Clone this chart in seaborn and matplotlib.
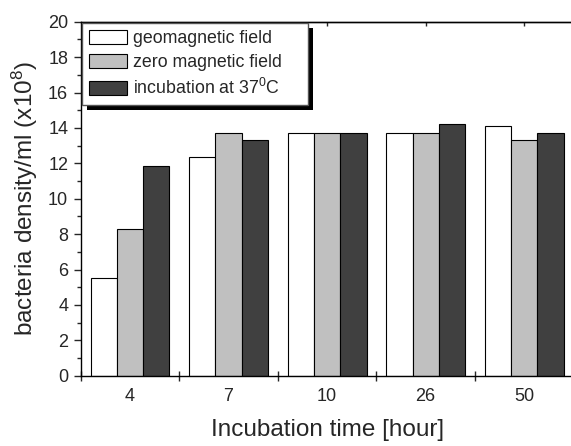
import matplotlib
matplotlib.use("Agg")
import matplotlib.pyplot as plt
import seaborn as sns
import pandas as pd
from matplotlib.patches import Rectangle
from matplotlib.transforms import IdentityTransform
from matplotlib.ticker import MultipleLocator, FixedLocator, NullFormatter

times = ["4", "7", "10", "26", "50"]
conditions = ["geomagnetic field", "zero magnetic field", "incubation at 37$^0$C"]
geomagnetic = [5.5, 12.35, 13.7, 13.7, 14.1]
zero_field = [8.3, 13.7, 13.7, 13.7, 13.3]
incubation_37 = [11.85, 13.3, 13.7, 14.2, 13.7]
colors = ["#FFFFFF", "#C0C0C0", "#404040"]

rows = []
for cond, vals in zip(conditions, [geomagnetic, zero_field, incubation_37]):
    for t, v in zip(times, vals):
        rows.append({"time": t, "density": v, "condition": cond})
df = pd.DataFrame(rows)

sns.set_style("ticks")
plt.rcParams["font.family"] = ["Liberation Sans", "DejaVu Sans"]
plt.rcParams["mathtext.fontset"] = "custom"
plt.rcParams["mathtext.rm"] = "Liberation Sans"
plt.rcParams["mathtext.it"] = "Liberation Sans:italic"
plt.rcParams["mathtext.bf"] = "Liberation Sans:bold"

W, H = 571, 446
ax_left, ax_right, ax_top, ax_bottom = 80.7, 573.5, 21.7, 375.7
fig = plt.figure(figsize=(W / 100, H / 100), dpi=100)
ax = fig.add_axes([ax_left / W, (H - ax_bottom) / H, (ax_right - ax_left) / W, (ax_bottom - ax_top) / H])

sns.barplot(data=df, x="time", y="density", hue="condition", order=times,
            hue_order=conditions, palette=colors, saturation=1, width=0.8,
            edgecolor="black", linewidth=0.8, ax=ax)

ax.set_xlim(-0.5, 4.5)
ax.set_ylim(0, 20)

for s in ax.spines.values():
    s.set_linewidth(1.0)
    s.set_color("black")
    s.set_visible(True)

# y ticks
ax.yaxis.set_major_locator(MultipleLocator(2))
ax.yaxis.set_minor_locator(MultipleLocator(1))
ax.tick_params(axis="y", which="major", direction="out", length=5, width=1.0,
               labelsize=13, pad=4, right=False)
ax.tick_params(axis="y", which="minor", direction="out", length=3, width=1.0, right=False)

# x ticks: boundaries as ticks, labels at centers
ax.xaxis.set_major_locator(FixedLocator(range(len(times))))
ax.set_xticklabels(times)
ax.xaxis.set_minor_locator(FixedLocator([i - 0.5 for i in range(len(times) + 1)]))
ax.tick_params(axis="x", which="major", length=0, labelsize=13, pad=9, top=False)
ax.tick_params(axis="x", which="minor", direction="inout", length=7, width=1.0, top=False)

sec = ax.secondary_xaxis("top")
sec.set_xticks(range(len(times)))
sec.xaxis.set_major_formatter(NullFormatter())
sec.tick_params(direction="in", length=3, width=1.0)
sec.spines["top"].set_linewidth(1.0)

ax.set_xlabel("Incubation time [hour]", fontsize=17.5, labelpad=10)
ax.set_ylabel("bacteria density/ml (x10$^8$)", fontsize=17.5, labelpad=6)

handles, labels = ax.get_legend_handles_labels()
if ax.get_legend() is not None:
    ax.get_legend().remove()
leg_w = (308 - 82) / (ax_right - ax_left)
leg = ax.legend(handles, labels, loc="upper left", bbox_to_anchor=(0.003, 0.997, leg_w, 0.0),
                mode="expand", borderaxespad=0.0, fontsize=12.8, handlelength=2.15,
                handleheight=0.85, handletextpad=0.35, labelspacing=0.4, borderpad=0.38,
                frameon=True, fancybox=False, framealpha=1)
leg.get_frame().set_edgecolor("#555555")
leg.get_frame().set_linewidth(1.0)
for h in leg.legend_handles:
    h.set_edgecolor("black")
    h.set_linewidth(0.8)

fig.canvas.draw()
bb = leg.get_window_extent()
shadow = Rectangle((bb.x0 + 5, bb.y0 - 5), bb.width, bb.height, transform=IdentityTransform(),
                   facecolor="black", edgecolor="none", zorder=4.5, clip_on=False)
ax.add_artist(shadow)

fig.savefig("out.png", dpi=100)
